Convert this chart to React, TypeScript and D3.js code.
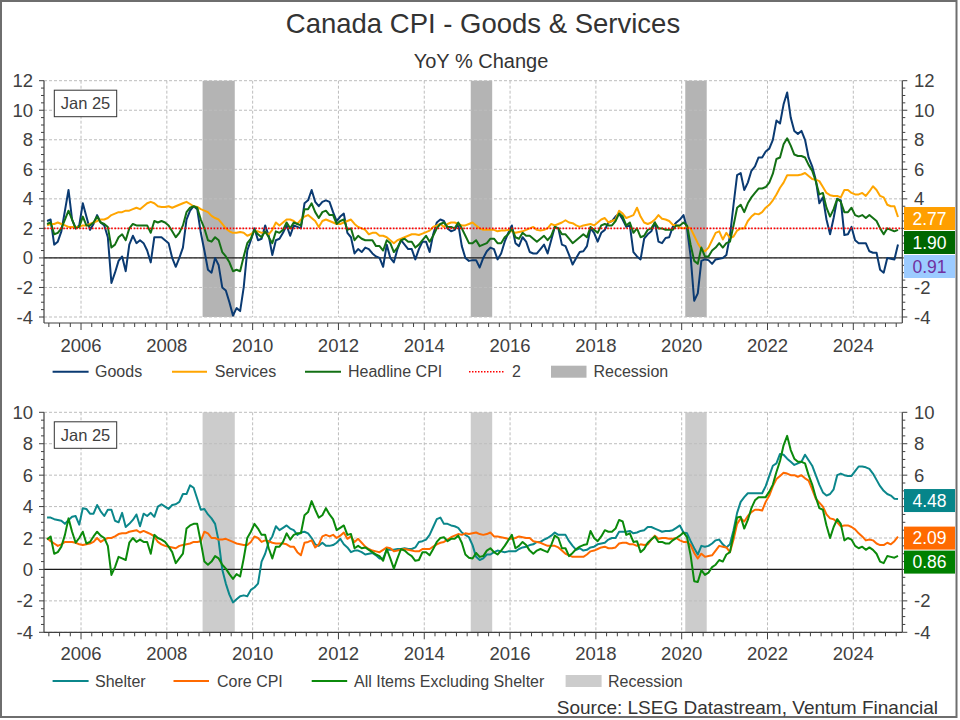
import * as d3 from "d3";

// Monthly YoY % change, one row per calendar year.
// First row starts in March 2005, last row holds January 2025 only.
const goods: number[][] = [
  [2.5, 2.6, 0.9, 1.1, 1.8, 3.2, 4.6, 2.6, 2.0, 2.2],
  [3.7, 2.8, 1.9, 2.3, 2.9, 2.4, 2.2, 1.4, -1.7, -1.0, -0.2, 0.1],
  [-0.9, 0.9, 1.5, 1.0, 1.2, 1.0, 0.5, -0.3, 1.4, 1.4, 1.4, 1.2],
  [1.0, 0.0, -0.6, 0.0, 0.7, 2.6, 3.2, 3.5, 3.3, 1.7, 0.5, -0.8],
  [-1.0, 0.0, -0.5, -2.0, -2.2, -3.0, -3.9, -3.4, -3.6, -2.0, 0.5, 1.2],
  [2.0, 1.2, 1.3, 2.2, 1.5, 0.2, 1.2, 1.3, 1.7, 2.2, 1.5, 2.2],
  [2.1, 2.0, 3.7, 3.9, 4.6, 3.8, 3.5, 3.8, 3.9, 3.8, 3.1, 2.5],
  [2.8, 3.0, 1.7, 1.4, 0.3, 0.6, 0.4, 0.7, 0.6, 0.3, 0.1, 0.0],
  [-0.6, 0.9, 0.0, -0.3, 0.6, 1.2, 0.9, 0.6, 0.6, -0.1, 0.6, 1.1],
  [1.1, 0.4, 1.6, 2.4, 2.6, 2.5, 2.0, 1.8, 1.9, 2.3, 0.8, 0.0],
  [-0.2, -0.15, -0.15, -0.65, 0.0, 0.45, 0.7, 0.6, -0.1, 0.3, 1.1, 1.7],
  [2.2, 1.0, 0.8, 1.4, 1.1, 0.4, 0.3, 0.3, 0.6, 0.9, 0.3, 1.2],
  [2.1, 2.0, 0.9, 0.8, 0.2, -0.45, 0.0, 0.4, 0.45, 0.8, 2.0, 1.7],
  [1.1, 1.7, 1.9, 2.4, 2.5, 2.8, 3.0, 2.6, 2.1, 2.2, 0.4, 0.1],
  [-0.1, 1.3, 1.6, 1.8, 2.4, 1.1, 1.0, 1.35, 1.4, 2.1, 2.4, 2.6],
  [2.9, 2.0, 0.1, -2.9, -2.4, -0.2, -0.1, -0.15, -0.4, -0.1, -0.05, 0.0],
  [0.2, 1.5, 3.6, 5.6, 5.75, 4.6, 5.1, 5.9, 6.2, 6.8, 6.8, 7.2],
  [7.4, 8.0, 9.3, 9.1, 10.4, 11.2, 9.5, 8.6, 8.4, 8.6, 8.0, 6.8],
  [6.2, 5.3, 3.7, 4.1, 2.6, 1.6, 2.7, 4.0, 3.9, 1.55, 1.6, 2.1],
  [1.2, 1.0, 1.0, 1.0, 0.45, 0.35, 0.35, -0.8, -1.0, 0.0, -0.05, -0.1],
  [0.91],
];

const services: number[][] = [
  [2.2, 2.3, 2.3, 2.4, 2.3, 2.2, 2.1, 2.1, 2.1, 2.1],
  [2.2, 2.2, 2.3, 2.4, 2.5, 2.6, 2.6, 2.7, 2.9, 3.0, 3.1, 3.1],
  [3.2, 3.2, 3.3, 3.4, 3.3, 3.5, 3.7, 3.8, 3.7, 3.5, 3.45, 3.45],
  [3.5, 3.4, 3.5, 3.6, 3.7, 3.8, 3.65, 3.5, 3.45, 3.3, 3.2, 3.1],
  [2.85, 2.7, 2.6, 2.3, 2.0, 1.8, 1.7, 1.7, 1.75, 1.7, 1.5, 1.6],
  [1.8, 1.8, 1.7, 1.7, 1.6, 1.9, 2.4, 2.2, 2.4, 2.6, 2.6, 2.5],
  [2.3, 2.6, 2.8, 2.9, 2.7, 2.5, 2.1, 2.5, 2.6, 2.5, 2.4, 2.3],
  [2.3, 2.4, 2.5, 2.6, 2.3, 2.1, 2.0, 1.9, 1.6, 1.7, 1.7, 1.5],
  [1.5, 1.4, 1.2, 1.0, 1.2, 1.3, 1.4, 1.5, 1.6, 1.6, 1.55, 1.65],
  [1.75, 1.85, 2.1, 2.2, 2.3, 2.1, 2.3, 2.4, 2.4, 2.3, 2.2, 2.2],
  [2.3, 2.4, 2.2, 2.0, 1.9, 1.9, 1.9, 1.9, 1.8, 1.85, 1.85, 1.9],
  [1.8, 1.7, 1.75, 1.8, 1.9, 2.0, 2.1, 1.9, 1.85, 1.9, 2.0, 2.3],
  [2.2, 2.3, 2.4, 2.55, 2.4, 2.35, 2.2, 2.1, 2.2, 2.25, 2.3, 2.2],
  [2.4, 2.6, 2.7, 2.4, 2.5, 2.6, 3.2, 3.0, 2.7, 2.8, 2.9, 3.4],
  [2.8, 2.4, 2.3, 2.4, 2.6, 2.9, 2.65, 2.6, 2.5, 2.25, 2.2, 2.05],
  [2.0, 2.1, 2.0, 1.5, 1.0, 0.6, 0.45, 0.7, 1.2, 1.7, 1.8, 1.25],
  [1.7, 1.35, 1.45, 1.85, 2.0, 2.0, 2.5, 2.8, 3.0, 2.95, 3.1, 3.4],
  [3.6, 3.9, 4.3, 4.75, 5.1, 5.6, 5.6, 5.6, 5.6, 5.65, 5.75, 5.55],
  [5.35, 5.3, 5.2, 4.8, 4.4, 4.25, 4.2, 4.2, 4.1, 4.6, 4.6, 4.4],
  [4.3, 4.3, 4.4, 4.2, 4.5, 4.85, 4.6, 4.2, 4.1, 3.6, 3.5, 3.5],
  [2.77],
];

const headline: number[][] = [
  [2.3, 2.4, 1.6, 1.7, 2.0, 2.6, 3.2, 2.6, 2.0, 2.1],
  [2.8, 2.2, 2.2, 2.4, 2.8, 2.4, 2.3, 2.1, 0.7, 0.9, 1.4, 1.6],
  [1.2, 2.0, 2.3, 2.2, 2.2, 2.2, 2.2, 1.7, 2.5, 2.4, 2.5, 2.4],
  [2.2, 1.8, 1.4, 1.7, 2.2, 3.1, 3.4, 3.5, 3.4, 2.6, 2.0, 1.2],
  [1.1, 1.4, 1.2, 0.4, 0.1, -0.3, -0.9, -0.8, -0.9, 0.1, 1.0, 1.3],
  [1.9, 1.6, 1.4, 1.8, 1.4, 1.0, 1.8, 1.7, 1.9, 2.4, 2.0, 2.4],
  [2.3, 2.2, 3.3, 3.3, 3.7, 3.1, 2.7, 3.1, 3.2, 2.9, 2.9, 2.3],
  [2.5, 2.6, 1.9, 2.0, 1.2, 1.5, 1.3, 1.2, 1.2, 1.2, 0.8, 0.8],
  [0.5, 1.2, 1.0, 0.4, 0.7, 1.2, 1.3, 1.1, 1.1, 0.7, 0.9, 1.2],
  [1.5, 1.1, 1.5, 2.0, 2.3, 2.4, 2.1, 2.1, 2.0, 2.4, 2.0, 1.5],
  [1.0, 1.0, 1.2, 0.8, 0.9, 1.0, 1.3, 1.3, 1.0, 1.0, 1.4, 1.6],
  [2.0, 1.4, 1.3, 1.7, 1.5, 1.5, 1.3, 1.1, 1.3, 1.5, 1.2, 1.5],
  [2.1, 2.0, 1.6, 1.6, 1.3, 1.0, 1.2, 1.4, 1.6, 1.4, 2.1, 1.9],
  [1.7, 2.2, 2.3, 2.2, 2.2, 2.5, 3.0, 2.8, 2.2, 2.4, 1.7, 2.0],
  [1.4, 1.5, 1.9, 2.0, 2.4, 2.0, 2.0, 1.9, 1.9, 1.9, 2.2, 2.2],
  [2.4, 2.2, 0.9, -0.2, -0.4, 0.7, 0.1, 0.1, 0.5, 0.7, 1.0, 0.7],
  [1.0, 1.1, 2.2, 3.4, 3.6, 3.1, 3.7, 4.1, 4.4, 4.7, 4.7, 4.8],
  [5.1, 5.7, 6.7, 6.8, 7.7, 8.1, 7.6, 7.0, 6.9, 6.9, 6.8, 6.3],
  [5.9, 5.2, 4.3, 4.4, 3.4, 2.8, 3.3, 4.0, 3.8, 3.1, 3.1, 3.4],
  [2.9, 2.8, 2.9, 2.7, 2.9, 2.7, 2.5, 2.0, 1.6, 2.0, 1.9, 1.8],
  [1.9],
];

const shelter: number[][] = [
  [3.3, 3.3, 3.2, 3.15, 3.1, 2.9, 3.15, 3.35, 3.4, 2.85],
  [3.9, 3.85, 3.55, 3.55, 4.1, 3.7, 3.4, 3.8, 3.8, 3.1, 3.0, 3.6],
  [2.7, 2.9, 3.15, 3.5, 2.75, 3.55, 3.4, 3.6, 3.35, 4.0, 4.15, 4.0],
  [3.85, 4.1, 4.15, 4.3, 4.8, 4.8, 5.35, 5.2, 4.5, 3.8, 3.85, 3.5],
  [3.25, 2.9, 1.8, 0.0, -0.9, -1.6, -2.1, -1.9, -1.7, -1.65, -1.7, -1.3],
  [-1.15, -0.9, 0.5, 1.0, 1.75, 2.1, 2.75, 2.5, 2.65, 2.8, 2.6, 2.5],
  [2.2, 2.35, 2.4, 2.3, 2.0, 1.6, 1.5, 1.7, 1.5, 1.5, 1.55, 1.7],
  [1.95, 1.6, 1.4, 1.1, 1.2, 1.2, 1.1, 0.95, 1.0, 1.05, 0.9, 0.7],
  [0.7, 1.25, 1.25, 1.25, 1.3, 1.3, 1.35, 1.3, 1.3, 1.4, 1.75, 1.8],
  [1.9, 2.2, 2.7, 3.2, 3.3, 2.9, 2.9, 2.8, 2.75, 2.65, 2.35, 2.2],
  [2.05, 1.55, 0.8, 0.6, 0.7, 0.95, 0.95, 1.1, 1.2, 1.15, 1.1, 1.15],
  [1.15, 1.15, 1.3, 1.4, 1.45, 1.55, 1.6, 1.75, 1.75, 1.9, 2.0, 2.15],
  [2.35, 2.2, 2.2, 2.2, 1.8, 1.5, 1.25, 1.35, 1.2, 1.25, 1.4, 1.45],
  [1.6, 1.65, 1.7, 1.9, 2.0, 2.0, 2.4, 2.4, 2.4, 2.45, 2.3, 2.35],
  [2.45, 2.5, 2.7, 2.7, 2.6, 2.5, 2.4, 2.45, 2.45, 2.5, 2.65, 2.8],
  [2.35, 2.3, 1.8, 1.35, 0.95, 1.5, 1.45, 1.5, 1.65, 1.85, 1.9, 1.6],
  [1.4, 1.6, 2.5, 3.6, 4.3, 4.6, 4.85, 4.85, 4.85, 4.85, 4.85, 5.3],
  [5.95, 6.6, 6.75, 7.35, 7.3, 7.05, 6.85, 6.65, 6.75, 6.85, 7.3, 6.95],
  [6.6, 6.0, 5.4, 4.9, 4.7, 4.8, 5.1, 6.0, 6.1, 6.0, 5.95, 5.95],
  [6.25, 6.55, 6.55, 6.5, 6.4, 6.1, 5.7, 5.3, 5.0, 4.8, 4.7, 4.5],
  [4.48],
];

const coreCpi: number[][] = [
  [2.0, 1.8, 1.65, 1.5, 1.6, 1.75, 1.75, 1.75, 1.7, 1.6],
  [1.55, 1.6, 1.65, 1.75, 2.0, 1.75, 1.9, 2.0, 2.0, 2.1, 2.25, 2.3],
  [2.3, 2.4, 2.45, 2.5, 2.35, 2.45, 2.35, 2.25, 2.1, 1.75, 1.6, 1.5],
  [1.45, 1.4, 1.35, 1.5, 1.55, 1.6, 1.65, 1.75, 1.75, 1.8, 2.4, 2.3],
  [2.0, 2.0, 1.9, 1.9, 1.95, 1.85, 1.75, 1.65, 1.6, 1.55, 1.55, 1.75],
  [2.1, 2.0, 1.75, 1.85, 1.8, 1.7, 1.65, 1.65, 1.65, 1.6, 1.45, 1.45],
  [1.1, 0.9, 1.7, 1.75, 1.85, 1.4, 1.6, 2.1, 2.2, 2.1, 2.2, 2.0],
  [2.15, 2.35, 1.95, 2.1, 1.75, 1.95, 1.7, 1.45, 1.3, 1.2, 1.15, 1.1],
  [1.25, 1.4, 1.35, 1.15, 1.2, 1.25, 1.3, 1.25, 1.2, 1.15, 1.15, 1.3],
  [1.3, 1.3, 1.45, 1.6, 1.7, 1.75, 1.9, 2.05, 2.15, 2.25, 2.2, 2.3],
  [2.25, 2.3, 2.35, 2.25, 2.2, 2.25, 2.35, 2.1, 2.1, 2.05, 2.0, 1.95],
  [1.95, 2.0, 2.1, 2.05, 2.0, 2.0, 1.8, 1.75, 1.7, 1.6, 1.5, 1.5],
  [1.5, 1.4, 1.2, 1.0, 0.9, 0.8, 0.8, 0.8, 0.8, 0.95, 1.15, 1.2],
  [1.3, 1.4, 1.45, 1.35, 1.35, 1.4, 1.65, 1.7, 1.7, 1.6, 1.6, 1.5],
  [1.6, 1.55, 1.6, 1.9, 2.15, 1.95, 2.0, 2.0, 1.95, 1.95, 2.0, 1.85],
  [1.75, 1.75, 1.55, 1.05, 0.7, 1.0, 0.8, 0.85, 0.9, 1.2, 1.5, 1.45],
  [1.4, 1.1, 1.9, 2.9, 3.25, 3.05, 3.4, 3.65, 3.8, 3.8, 3.75, 4.3],
  [4.7, 5.3, 5.75, 5.95, 6.15, 6.1, 6.0, 6.0, 5.9, 6.0, 5.8, 5.65],
  [5.1, 4.5, 4.25, 4.0, 3.5, 3.25, 3.2, 3.0, 2.75, 2.8, 2.8, 2.7],
  [2.55, 2.3, 2.1, 1.85, 1.9, 1.85, 1.65, 1.55, 1.55, 1.7, 1.6, 1.8],
  [2.09],
];

const exShelter: number[][] = [
  [1.9, 2.1, 1.0, 1.1, 1.45, 2.2, 3.25, 2.4, 1.7, 2.0],
  [2.4, 1.65, 1.75, 2.1, 2.4, 2.15, 2.0, 1.5, -0.35, 0.15, 0.8, 0.7],
  [0.6, 1.7, 2.0, 1.75, 1.9, 1.75, 1.75, 1.0, 2.2, 2.0, 1.9, 1.75],
  [1.45, 1.1, 0.4, 0.7, 1.0, 2.6, 2.8, 2.9, 2.9, 1.75, 0.5, 0.3],
  [0.5, 0.85, 0.7, 0.3, 0.05, -0.3, -0.6, -0.3, -0.45, 0.7, 2.0, 2.4],
  [2.9, 2.6, 2.2, 2.2, 1.35, 0.7, 1.45, 1.45, 1.75, 2.3, 1.9, 2.2],
  [2.3, 2.3, 3.45, 3.65, 4.35, 3.8, 3.3, 3.45, 3.9, 3.5, 3.2, 2.5],
  [2.65, 2.8, 2.2, 2.25, 1.35, 1.5, 1.35, 1.4, 1.25, 1.1, 0.95, 0.85],
  [0.55, 1.3, 0.7, 0.05, 0.7, 1.3, 1.2, 1.0, 0.85, 0.55, 0.6, 1.1],
  [1.1, 0.9, 1.3, 1.75, 2.0, 2.05, 1.8, 1.95, 1.95, 2.15, 1.7, 0.95],
  [0.75, 0.7, 1.05, 0.8, 0.85, 1.2, 1.35, 1.1, 0.95, 1.2, 1.5, 1.85],
  [2.2, 1.35, 1.5, 1.75, 1.55, 1.2, 1.0, 1.2, 1.3, 1.2, 1.1, 1.55],
  [2.15, 2.0, 1.35, 1.35, 0.85, 1.05, 1.3, 1.45, 1.55, 1.6, 2.45, 2.0],
  [1.8, 2.1, 2.5, 2.4, 2.4, 2.6, 3.15, 3.05, 2.2, 2.3, 1.75, 1.8],
  [1.1, 1.3, 1.7, 1.9, 2.1, 1.75, 1.75, 1.65, 1.65, 1.85, 2.0, 2.15],
  [2.35, 2.05, 0.9, -0.75, -0.8, -0.05, -0.35, -0.2, 0.15, 0.3, 0.6, 0.5],
  [0.95, 1.1, 2.25, 3.3, 3.35, 2.6, 3.15, 3.9, 4.4, 4.6, 4.6, 4.6],
  [4.95, 5.4, 6.2, 6.9, 7.9, 8.5, 7.6, 7.05, 6.85, 6.85, 6.75, 6.0],
  [5.4, 4.6, 3.9, 3.8, 2.8, 2.0, 2.7, 3.2, 2.9, 1.85, 2.0, 1.9],
  [1.5, 1.35, 1.45, 1.25, 1.4, 1.25, 1.0, 0.5, 0.4, 0.85, 0.8, 0.75],
  [0.86],
];

// Recession periods (start, end) as fractional years
const recessions: [number, number][] = [
  [2008 + 10 / 12, 2009 + 7 / 12],
  [2015 + 1 / 12, 2015 + 7 / 12],
  [2020 + 1 / 12, 2020 + 7 / 12],
];

const yearLabels = [2006, 2008, 2010, 2012, 2014, 2016, 2018, 2020, 2022, 2024];
const topTicks = [-4, -2, 0, 2, 4, 6, 8, 10, 12];
const bottomTicks = [-4, -2, 0, 2, 4, 6, 8, 10];
const topNames = ["Goods", "Services", "Headline CPI", "2", "Recession"];
const bottomNames = ["Shelter", "Core CPI", "All Items Excluding Shelter", "Recession"];
const lastLabel = "Jan 25";

const FONT = "'Liberation Sans', Arial, Helvetica, sans-serif";
const TXT = "#404040";
const AXIS = "#404040";
const GRID = "#bdbdbd";

const X0 = 44;
const X1 = 902.3;
const x = d3.scaleLinear().domain([2005.137, 2025.142]).range([X0, X1]);

function toPoints(rows: number[][]): [number, number][] {
  const pts: [number, number][] = [];
  rows.forEach((row, r) => {
    const offset = r === 0 ? 2 : 0;
    row.forEach((v, c) => pts.push([2005 + r + (offset + c + 0.5) / 12, v]));
  });
  return pts;
}

function lastValue(rows: number[][]) {
  const row = rows[rows.length - 1];
  return row[row.length - 1];
}

interface SeriesDef {
  rows: number[][];
  color: string;
  box: string;
  boxText: string;
}

interface LegendItem {
  kind: "line" | "dot" | "box";
  color: string;
  x: number;
  w: number;
  tx: number;
  label: string;
}

interface PanelProps {
  yMin: number;
  yMax: number;
  ticks: number[];
  top: number;
  bottom: number;
  axisY: number;
  labelBase: number;
  series: SeriesDef[];
  bandColor: string;
  refLine?: number;
  legend: LegendItem[];
  legendY: number;
}

function Panel(p: PanelProps) {
  const y = d3.scaleLinear().domain([p.yMin, p.yMax]).range([p.bottom, p.top]);
  const minor = d3.range(p.yMin, p.yMax + 0.001, 0.5);
  const quarters = d3.range(Math.ceil(x.domain()[0] * 4), Math.floor(x.domain()[1] * 4) + 1).map((q) => q / 4);
  const line = d3
    .line<[number, number]>()
    .x((d) => x(d[0]))
    .y((d) => y(d[1]));

  // value boxes on the right, stacked so they do not overlap
  const BOX_H = 23;
  const sorted = [...p.series].sort((a, b) => lastValue(b.rows) - lastValue(a.rows));
  let prevBottom = -Infinity;
  const boxes = sorted.map((s) => {
    const v = lastValue(s.rows);
    let top = y(v) + 1.5 - BOX_H / 2;
    if (top < prevBottom + 1) top = prevBottom + 1;
    prevBottom = top + BOX_H;
    return { s, v, top };
  });
  // right-hand tick labels sitting under a value box are hidden by it
  const covered = (t: number) => boxes.some((b) => y(t) > b.top && y(t) < b.top + BOX_H);

  return (
    <g>
      {/* recession bands */}
      {recessions.map(([a, b], i) => (
        <rect key={i} x={x(a)} y={p.top} width={x(b) - x(a)} height={p.bottom - p.top} fill={p.bandColor} />
      ))}

      {/* grid */}
      {p.ticks.map((t) => (
        <line key={"gy" + t} x1={X0} x2={X1} y1={y(t)} y2={y(t)} stroke={GRID} strokeDasharray="3 2" />
      ))}
      {yearLabels.map((yr) => (
        <line key={"gx" + yr} x1={x(yr)} x2={x(yr)} y1={p.top} y2={p.bottom} stroke={GRID} strokeDasharray="3 2" />
      ))}

      {/* zero line */}
      <line x1={X0} x2={X1} y1={y(0)} y2={y(0)} stroke="#1a1a1a" strokeWidth={1.2} />

      {/* series */}
      {p.series.map((s, i) => (
        <path key={i} d={line(toPoints(s.rows)) ?? ""} fill="none" stroke={s.color} strokeWidth={2} strokeLinejoin="round" />
      ))}

      {p.refLine !== undefined && (
        <line x1={X0} x2={X1} y1={y(p.refLine)} y2={y(p.refLine)} stroke="#ff0000" strokeWidth={1.8} strokeDasharray="1.6 1.6" />
      )}

      {/* axes */}
      <line x1={X0} x2={X0} y1={p.top} y2={p.axisY} stroke={AXIS} strokeWidth={1.2} />
      <line x1={X1} x2={X1} y1={p.top} y2={p.axisY} stroke={AXIS} strokeWidth={1.2} />
      <line x1={X0} x2={X1} y1={p.axisY} y2={p.axisY} stroke={AXIS} strokeWidth={1.2} />

      {minor.map((t) => {
        const major = p.ticks.includes(t);
        const len = major ? 5 : 3;
        return (
          <g key={"t" + t}>
            <line x1={X0 - len} x2={X0} y1={y(t)} y2={y(t)} stroke={AXIS} />
            <line x1={X1} x2={X1 + len} y1={y(t)} y2={y(t)} stroke={AXIS} />
          </g>
        );
      })}
      {quarters.map((q) => {
        const major = Math.abs(q - Math.round(q)) < 1e-6 && Math.round(q) % 2 === 0;
        return <line key={"q" + q} x1={x(q)} x2={x(q)} y1={p.axisY} y2={p.axisY + (major ? 7 : 4)} stroke={AXIS} />;
      })}

      {p.ticks.map((t) => (
        <g key={"l" + t} fontFamily={FONT} fontSize={18.5} fill={TXT}>
          <text x={33} y={y(t) + 6.5} textAnchor="end">{t}</text>
          {!covered(t) && <text x={914} y={y(t) + 6.5}>{t}</text>}
        </g>
      ))}
      {yearLabels.map((yr) => (
        <text key={"xl" + yr} x={x(yr)} y={p.labelBase} textAnchor="middle" fontFamily={FONT} fontSize={18.5} fill={TXT}>
          {yr}
        </text>
      ))}

      {/* last date box */}
      <rect x={54.3} y={p.top + 9.5} width={62.4} height={26.5} fill="#fff" stroke="#333" strokeWidth={1} />
      <text x={85.5} y={p.top + 28.6} textAnchor="middle" fontFamily={FONT} fontSize={16.5} fill={TXT}>
        {lastLabel}
      </text>

      {/* last value boxes */}
      {boxes.map(({ s, v, top }, i) => (
        <g key={"b" + i}>
          <rect x={904} y={top} width={51} height={BOX_H} fill={s.box} />
          <text x={929.5} y={top + BOX_H / 2 + 6.3} textAnchor="middle" fontFamily={FONT} fontSize={17.5} fill={s.boxText}>
            {v.toFixed(2)}
          </text>
        </g>
      ))}

      {/* legend */}
      {p.legend.map((it, i) => (
        <g key={"lg" + i}>
          {it.kind === "line" && (
            <line x1={it.x} x2={it.x + it.w} y1={p.legendY} y2={p.legendY} stroke={it.color} strokeWidth={2} />
          )}
          {it.kind === "dot" && (
            <line x1={it.x} x2={it.x + it.w} y1={p.legendY} y2={p.legendY} stroke={it.color} strokeWidth={1.6} strokeDasharray="1.5 1.5" />
          )}
          {it.kind === "box" && <rect x={it.x} y={p.legendY - 6} width={it.w} height={12} fill={it.color} />}
          <text x={it.tx} y={p.legendY + 5.7} fontFamily={FONT} fontSize={16} fill={TXT}>
            {it.label}
          </text>
        </g>
      ))}
    </g>
  );
}

const C = {
  goods: "#0a3a72",
  services: "#ffa500",
  headline: "#137014",
  shelter: "#0b878b",
  core: "#ff6a00",
  exShelter: "#0b8a0b",
};

export default function App() {
  const topSeries: SeriesDef[] = [
    { rows: goods, color: C.goods, box: "#9ccbff", boxText: "#7030a0" },
    { rows: services, color: C.services, box: "#ff9f00", boxText: "#ffffff" },
    { rows: headline, color: C.headline, box: "#006600", boxText: "#ffffff" },
  ];
  const bottomSeries: SeriesDef[] = [
    { rows: shelter, color: C.shelter, box: "#06858a", boxText: "#ffffff" },
    { rows: coreCpi, color: C.core, box: "#ff6a00", boxText: "#ffffff" },
    { rows: exShelter, color: C.exShelter, box: "#008000", boxText: "#ffffff" },
  ];
  const topLegend: LegendItem[] = [
    { kind: "line", color: C.goods, x: 52.6, w: 36, tx: 95, label: topNames[0] },
    { kind: "line", color: C.services, x: 172, w: 35, tx: 214.8, label: topNames[1] },
    { kind: "line", color: C.headline, x: 305, w: 36, tx: 348, label: topNames[2] },
    { kind: "dot", color: "#ff0000", x: 469, w: 35, tx: 512, label: topNames[3] },
    { kind: "box", color: "#b4b4b4", x: 551, w: 35.5, tx: 593.5, label: topNames[4] },
  ];
  const bottomLegend: LegendItem[] = [
    { kind: "line", color: C.shelter, x: 52.6, w: 36, tx: 95, label: bottomNames[0] },
    { kind: "line", color: C.core, x: 173.5, w: 35.5, tx: 217, label: bottomNames[1] },
    { kind: "line", color: C.exShelter, x: 311.7, w: 35.5, tx: 354, label: bottomNames[2] },
    { kind: "box", color: "#cccccc", x: 565.6, w: 36, tx: 608, label: bottomNames[3] },
  ];

  return (
    <svg
      width={960}
      height={720}
      viewBox="0 0 960 720"
      style={{ position: "absolute", left: 0, top: 0, background: "#fff" }}
    >
      <rect x={0} y={0} width={960} height={720} fill="#fff" />
      <rect x={1} y={1} width={955.5} height={716} fill="none" stroke="#6e6e6e" strokeWidth={2} />

      <text x={483} y={33.3} textAnchor="middle" fontFamily={FONT} fontSize={27.5} fill="#333">
        Canada CPI - Goods &amp; Services
      </text>
      <text x={481} y={68.3} textAnchor="middle" fontFamily={FONT} fontSize={20} fill="#333">
        YoY % Change
      </text>

      <Panel
        yMin={-4}
        yMax={12}
        ticks={topTicks}
        top={80.7}
        bottom={317}
        axisY={323}
        labelBase={351.5}
        series={topSeries}
        bandColor="#b4b4b4"
        refLine={2}
        legend={topLegend}
        legendY={371.7}
      />
      <Panel
        yMin={-4}
        yMax={10}
        ticks={bottomTicks}
        top={412.3}
        bottom={632.3}
        axisY={632.3}
        labelBase={660}
        series={bottomSeries}
        bandColor="#cccccc"
        legend={bottomLegend}
        legendY={681}
      />

      <text x={938} y={714} textAnchor="end" fontFamily={FONT} fontSize={19} fill="#333">
        Source: LSEG Datastream, Ventum Financial
      </text>
    </svg>
  );
}
